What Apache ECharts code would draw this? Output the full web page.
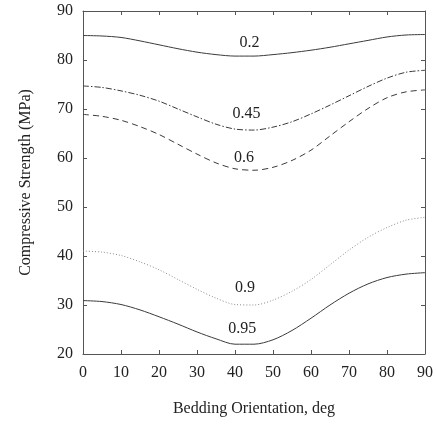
<!DOCTYPE html>
<html><head><meta charset="utf-8">
<script src="https://cdn.jsdelivr.net/npm/echarts@6/dist/echarts.min.js"></script>
<style>html,body{margin:0;padding:0;background:#fff}#c{width:436px;height:429px}</style>
</head><body><div id="c"></div>
<script>
const angles = [0,5,10,15,20,25,30,35,40,45,50,55,60,65,70,75,80,85,90];
const s02  = [85.0,84.9,84.6,83.9,83.1,82.3,81.6,81.1,80.8,80.8,81.1,81.5,82.0,82.6,83.3,84.0,84.7,85.1,85.2];
const s045 = [74.7,74.4,73.7,72.8,71.6,70.0,68.4,66.9,65.9,65.7,66.3,67.4,69.0,70.8,72.7,74.6,76.3,77.5,77.9];
const s06  = [68.9,68.5,67.7,66.4,64.8,62.8,60.8,59.0,57.8,57.5,58.1,59.5,61.6,64.5,67.4,70.1,72.3,73.5,73.9];
const s09  = [41.0,40.8,40.1,38.8,37.2,35.2,33.2,31.4,30.1,30.0,31.0,32.8,35.2,38.2,41.2,43.8,45.8,47.3,47.9];
const s095 = [30.9,30.7,30.1,29.0,27.6,26.1,24.5,23.1,22.0,22.0,22.9,24.8,27.3,30.0,32.4,34.3,35.6,36.3,36.6];
const seriesNames = ['0.2','0.45','0.6','0.9','0.95'];
const labelPos = [[43.8,83.6],[43.0,69.1],[42.4,60.1],[42.6,33.5],[41.9,25.1]];
const xTicks = [0,10,20,30,40,50,60,70,80,90];
const yTicks = [20,30,40,50,60,70,80,90];

const FONT = 'Liberation Serif';
const allData = [s02,s045,s06,s09,s095];
const styles = [
  {type:'solid', color:'#3a3a3a'},
  {type:[6,2,1.5,2], color:'#3a3a3a'},
  {type:[6,4], color:'#3a3a3a'},
  {type:[1,2], color:'#8a8a8a'},
  {type:'solid', color:'#3a3a3a'}
];
const series = allData.map((d,i)=>({
  name: seriesNames[i],
  type:'line',
  data: angles.map((a,j)=>[a,d[j]]),
  smooth: 0.3,
  symbol:'none',
  lineStyle:{width:1, type:styles[i].type, color:styles[i].color},
  markPoint:{
    symbol:'circle', symbolSize:0,
    data:[{coord:labelPos[i]}],
    label:{show:true, formatter:seriesNames[i], fontFamily:FONT, fontSize:16, color:'#222', position:'inside'}
  },
  silent:true
}));
const axisLine = {show:true, onZero:false, lineStyle:{color:'#555', width:1}};
const tick = {show:true, inside:true, length:4, lineStyle:{color:'#555'}};
const chart = echarts.init(document.getElementById('c'));
chart.setOption({
  animation:false,
  grid:{left:83, right:5, top:11, bottom:75},
  xAxis:[{
    type:'value', min:0, max:90, interval:10,
    axisLine, axisTick:tick,
    axisLabel:{fontFamily:FONT, fontSize:16, color:'#222', margin:11,
      formatter:v=>xTicks.includes(v)?String(v):''},
    splitLine:{show:false},
    name:'Bedding Orientation, deg', nameLocation:'middle', nameGap:47,
    nameTextStyle:{fontFamily:FONT, fontSize:16, color:'#222'}
  },{
    type:'value', min:0, max:90, interval:10, position:'top',
    axisLine, axisTick:tick,
    axisLabel:{show:false}, splitLine:{show:false}
  }],
  yAxis:[{
    type:'value', min:20, max:90, interval:10,
    axisLine, axisTick:tick,
    axisLabel:{fontFamily:FONT, fontSize:16, color:'#222', margin:10,
      formatter:v=>yTicks.includes(v)?String(v):''},
    splitLine:{show:false},
    name:'Compressive Strength (MPa)', nameLocation:'middle', nameGap:49,
    nameTextStyle:{fontFamily:FONT, fontSize:16, color:'#222'}
  },{
    type:'value', min:20, max:90, interval:10, position:'right',
    axisLine, axisTick:tick,
    axisLabel:{show:false}, splitLine:{show:false}
  }],
  series
});
</script></body></html>
